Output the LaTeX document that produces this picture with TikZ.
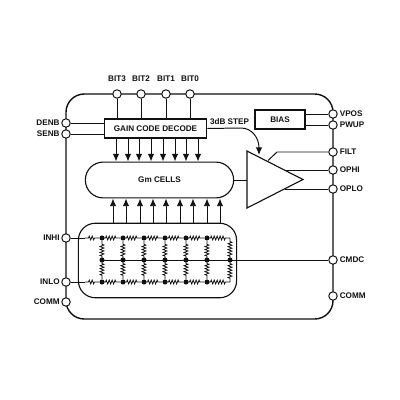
\documentclass[tikz,border=0pt]{standalone}
\usepackage{fontspec}
\setmainfont{Liberation Sans}
\usepackage{tikz}
\usetikzlibrary{arrows.meta,positioning,shapes.geometric,calc,decorations.pathmorphing}
\definecolor{ink}{HTML}{111111}
\tikzset{
  wire/.style={draw=ink, line width=0.7pt},
  flow/.style={wire, -{Latex[length=5.5pt,width=4.6pt]}},
  pin/.style={circle, draw=ink, fill=white, line width=0.7pt, minimum size=6pt, inner sep=0pt},
  lbl/.style={font=\bfseries\fontsize{5.8}{6}\selectfont, text=ink, inner sep=0pt},
  block/.style={draw=ink, line width=0.8pt, fill=white, font=\bfseries\fontsize{5.8}{6}\selectfont, text=ink, inner sep=0pt},
  dot/.style={circle, fill=ink, minimum size=3.6pt, inner sep=0pt},
  res/.style={wire, line width=0.55pt, decorate, decoration={zigzag, segment length=2.1pt, amplitude=1.4pt, pre length=2.5pt, post length=2.5pt}},
}
\begin{document}
\begin{tikzpicture}[x=0.25mm, y=-0.25mm]
  \useasboundingbox (0,0) rectangle (400,400);
  \fill[white] (0,0) rectangle (400,400);
  % package outline
  \draw[draw=ink, line width=1pt, rounded corners=13pt] (66,94) rectangle (333,319);
  % blocks
  \node[block, minimum width=73pt, minimum height=13.5pt] (decode) at (155.5,128.5) {GAIN CODE DECODE};
  \node[block, minimum width=35.5pt, minimum height=13.5pt] (bias) at (280,119.5) {BIAS};
  \node[block, rounded corners=12.7pt, minimum width=105.5pt, minimum height=25.5pt] (gm) at (159.5,180) {Gm CELLS};
  \node[draw=ink, line width=0.8pt, rounded corners=12pt, minimum width=112.5pt, minimum height=53pt] (net) at (157.5,260.5) {};
  \coordinate (apex) at (303,179.5);
  \coordinate (ampa) at (247,151);
  \coordinate (ampb) at (247,208);
  \draw[draw=ink, line width=0.8pt, fill=white] (ampa) -- (apex) -- (ampb) -- cycle;
  % pins
  \foreach \name/\x/\y in {bita/117/94, bitb/141/94, bitc/166/94, bitd/190/94,
      denb/66/123, senb/66/134, inhi/66/238, inlo/66/282, comml/66/302,
      vpos/333/114, pwup/333/125, filt/333/152, ophi/333/170, oplo/333/189,
      cmdc/333/260, commr/333/296}
    \node[pin] (\name) at (\x,\y) {};
  % labels
  \foreach \name/\txt in {bita/BIT3, bitb/BIT2, bitc/BIT1, bitd/BIT0}
    \node[lbl, above=5pt of \name] {\txt};
  \foreach \name/\txt in {denb/DENB, senb/SENB, inhi/INHI, inlo/INLO, comml/COMM}
    \node[lbl, left=1pt of \name] {\txt};
  \foreach \name/\txt in {vpos/VPOS, pwup/PWUP, filt/FILT, ophi/OPHI, oplo/OPLO, cmdc/CMDC, commr/COMM}
    \node[lbl, right=1.3pt of \name] {\txt};
  \node[lbl] (step) at (229.5,121.5) {3dB STEP};
  % control lines
  \foreach \name/\x in {bita/117, bitb/141, bitc/166, bitd/190}
    \draw[wire] (\name) -- (\x,119);
  \draw[wire] (denb) -- (denb -| decode.west);
  \draw[wire] (senb) -- (senb -| decode.west);
  \draw[wire] (vpos) -- (vpos -| bias.east);
  \draw[wire] (pwup) -- (pwup -| bias.east);
  \draw[wire] (gm.east) -- (gm.east -| ampa);
  \draw[wire] (filt) -- (277,152) -- (268,160.5);
  \draw[wire] (ophi) -- (285,170);
  \draw[wire] (oplo) -- (285,189);
  \draw[flow] (decode.east) -- (241,128) .. controls (252,128) and (259,138) .. (259,155);
  % gain code arrows
  \foreach \x in {116,128,139,151,163,175,186,198}
    \draw[flow] (\x,138) -- (\x,161.5);
  \foreach \x in {113,126,140,153,166,180,193,207,220}
    \draw[flow] (\x,223) -- (\x,198.5);
  % attenuator ladder
  \foreach \i/\x in {1/102, 2/123, 3/144, 4/165, 5/186, 6/207} {
    \node[dot] (t\i) at (\x,238) {};
    \node[dot] (m\i) at (\x,260) {};
    \node[dot] (b\i) at (\x,282) {};
  }
  \coordinate (t7) at (230,238);
  \node[dot] (m7) at (230,260) {};
  \coordinate (b7) at (230,282);
  \draw[wire] (inhi) -- (85,238);
  \draw[wire] (inlo) -- (85,282);
  \draw[res] (85,238) -- (t1);
  \draw[res] (85,282) -- (b1);
  \foreach \i/\j in {1/2, 2/3, 3/4, 4/5, 5/6, 6/7} {
    \draw[res] (t\i.center) -- (t\j);
    \draw[res] (b\i.center) -- (b\j);
  }
  \foreach \i in {1,...,7} {
    \draw[res] (t\i) -- (m\i.center);
    \draw[res] (m\i.center) -- (b\i);
  }
  \draw[wire] (m1.center) -- (cmdc);
\end{tikzpicture}
\end{document}
